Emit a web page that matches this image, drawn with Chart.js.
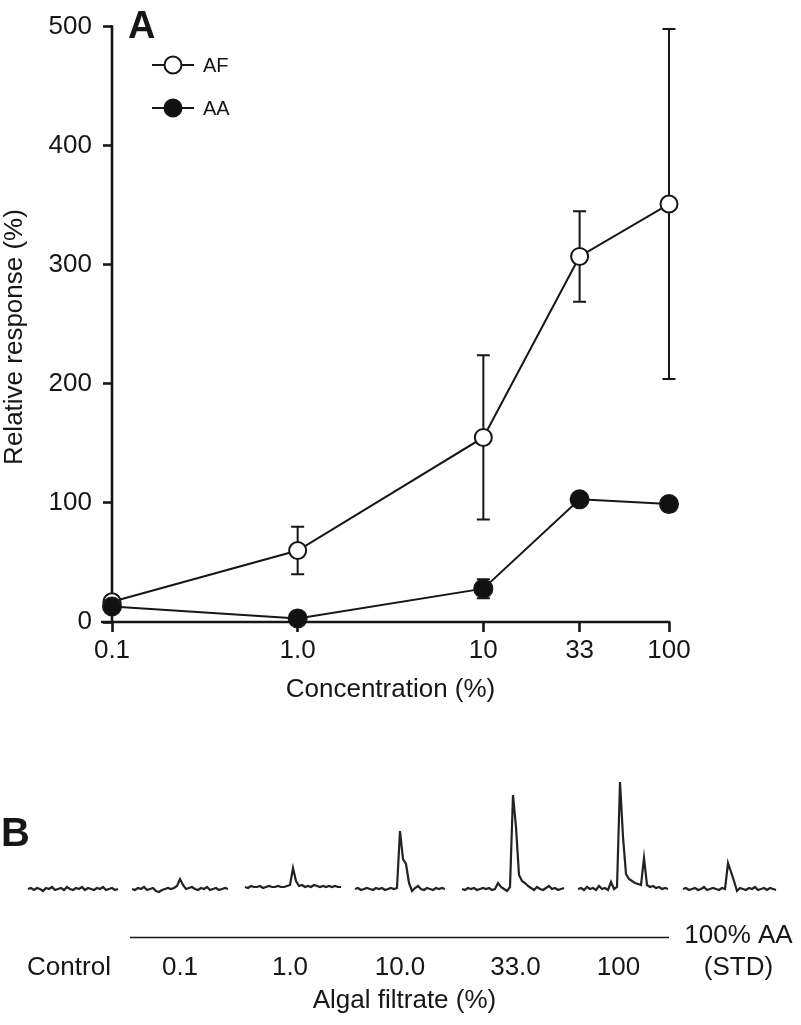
<!DOCTYPE html>
<html><head><meta charset="utf-8">
<script src="https://cdn.jsdelivr.net/npm/chart.js@4.4.1/dist/chart.umd.min.js"></script>
<style>
html,body{margin:0;padding:0;background:#fff;}
#wrap{position:relative;width:801px;height:1025px;overflow:hidden;}
.box{position:absolute;left:0;width:801px;}
</style></head><body>
<div id="wrap">
<div class="box" style="top:0;height:730px"><canvas id="cA" width="801" height="730"></canvas></div>
<div class="box" style="top:730px;height:295px"><canvas id="cB" width="801" height="295"></canvas></div>
</div>
<script>
// ---------- Panel A data ----------
const concentrations = [0.1, 1, 10, 33, 100];
const xTickLabels = ["0.1", "1.0", "10", "33", "100"];
const yTicks = [0, 100, 200, 300, 400, 500];
const afMean = [17, 60, 155, 307, 351];
const afErr  = [0, 20, 69, 38, 147];
const aaMean = [13, 3, 28, 103, 99];
const aaErr  = [0, 0, 8, 0, 0];
const seriesNames = ["AF", "AA"];

// ---------- Panel B data (trace samples, arbitrary units above baseline) ----------
const traceNames = ["Control", "0.1", "1.0", "10.0", "33.0", "100", "100% AA"];
const traceStart = [9.33, 44, 81.67, 118.33, 154, 192.67, 227.67];
const traceControl = [0,1,-1,1,0,-2,1,0,2,-1,0,1,-1,2,0,-1,1,0,2,-1,1,0,-1,1,0,2,-1,0,1,-1,0];
const trace01  = [0,-1,1,0,2,-1,0,1,-2,-3,-1,0,1,0,1,3,10,4,0,1,2,0,-1,1,0,2,-1,0,1,-1,0,1,0];
const trace10  = [2,1,3,2,2,3,1,2,3,2,2,3,2,2,3,4,21,8,3,4,2,3,2,4,3,2,3,2,3,2,3,2,2];
const trace100 = [0,1,-1,0,1,0,-1,1,0,1,-1,0,1,0,1,58,30,25,6,-2,1,3,0,-1,1,0,-1,1,0,1,0];
const trace330 = [0,-1,1,0,1,-1,0,1,0,1,-1,0,6,2,0,-2,2,94,62,14,8,6,3,1,-1,2,0,-1,1,3,0,1,-1,0,1];
const trace1000 = [0,1,-1,2,0,1,-1,3,0,1,-1,7,0,2,107,52,15,10,8,6,5,4,31,4,2,3,1,2,0,1,0];
const traceStd = [0,1,-1,0,1,-1,0,2,-1,0,1,0,-1,1,0,26,17,8,-2,1,0,-1,1,0,2,-1,0,1,-1,1,0,-1];
const traces = [traceControl, trace01, trace10, trace100, trace330, trace1000, traceStd];
const bLabelPos = [23, 60, 96.67, 133.33, 171.83, 206.17, 246.17];
const bGroupSpan = [43.33, 223];
const bTitlePos = 134.83;

const FONT = "'Liberation Sans', Arial, Helvetica, sans-serif";
const INK = '#161616';

function pts(xs, ys) { return xs.map((x, i) => ({x: x, y: ys[i]})); }

const errorBars = {
  id: 'errorBars',
  beforeDatasetsDraw(chart) {
    const ctx = chart.ctx, xs = chart.scales.x, ys = chart.scales.y;
    ctx.save();
    ctx.strokeStyle = INK; ctx.lineWidth = 2;
    chart.data.datasets.forEach(ds => {
      if (!ds.err) return;
      ds.data.forEach((p, i) => {
        const e = ds.err[i]; if (!e) return;
        const px = xs.getPixelForValue(p.x);
        const top = ys.getPixelForValue(p.y + e), bot = ys.getPixelForValue(p.y - e);
        ctx.beginPath();
        ctx.moveTo(px, top); ctx.lineTo(px, bot);
        ctx.moveTo(px - 6.5, top); ctx.lineTo(px + 6.5, top);
        ctx.moveTo(px - 6.5, bot); ctx.lineTo(px + 6.5, bot);
        ctx.stroke();
      });
    });
    ctx.restore();
  }
};

const decorA = {
  id: 'decorA',
  beforeDraw(chart) {
    const ctx = chart.ctx, ca = chart.chartArea;
    ctx.save();
    ctx.strokeStyle = INK; ctx.lineWidth = 2.6; ctx.lineCap = 'butt';
    ctx.beginPath();
    ctx.moveTo(ca.left, ca.top - 1.3); ctx.lineTo(ca.left, ca.bottom + 1.3);
    ctx.moveTo(ca.left - 11, ca.bottom); ctx.lineTo(ca.right + 1.3, ca.bottom);
    ctx.stroke();
    ctx.restore();
  },
  afterDraw(chart) {
    const ctx = chart.ctx, ca = chart.chartArea;
    ctx.save();
    ctx.fillStyle = INK;
    ctx.font = "bold 38px " + FONT;
    ctx.textAlign = 'left'; ctx.textBaseline = 'alphabetic';
    ctx.fillText('A', ca.left + 16, 38);
    ctx.font = "26px " + FONT;
    ctx.textAlign = 'center';
    ctx.fillText('Concentration (%)', (ca.left + ca.right) / 2, 697);
    ctx.save();
    ctx.translate(15, 337); ctx.rotate(-Math.PI / 2);
    ctx.textBaseline = 'middle';
    ctx.fillText('Relative response (%)', 0, 0);
    ctx.restore();
    const rows = [65, 108];
    chart.data.datasets.slice().sort((a, b) => a.legendIndex - b.legendIndex).forEach((ds, k) => {
      const y = rows[k];
      ctx.strokeStyle = INK; ctx.lineWidth = 2;
      ctx.beginPath(); ctx.moveTo(152, y); ctx.lineTo(194, y); ctx.stroke();
      ctx.beginPath(); ctx.arc(173, y, 8.5, 0, Math.PI * 2);
      ctx.fillStyle = ds.pointBackgroundColor; ctx.fill();
      ctx.stroke();
      ctx.fillStyle = INK;
      ctx.font = "20px " + FONT; ctx.textAlign = 'left'; ctx.textBaseline = 'middle';
      ctx.fillText(ds.label, 203, y + 1);
    });
    ctx.restore();
  }
};

new Chart(document.getElementById('cA'), {
  type: 'line',
  data: {
    datasets: [
      { label: seriesNames[1], legendIndex: 1, order: 0, data: pts(concentrations, aaMean), err: aaErr,
        borderColor: INK, borderWidth: 2, pointRadius: 9, pointBorderWidth: 2,
        pointBackgroundColor: '#111', pointBorderColor: INK, clip: false, tension: 0 },
      { label: seriesNames[0], legendIndex: 0, order: 1, data: pts(concentrations, afMean), err: afErr,
        borderColor: INK, borderWidth: 2, pointRadius: 8.5, pointBorderWidth: 2,
        pointBackgroundColor: '#ffffff', pointBorderColor: INK, clip: false, tension: 0 }
    ]
  },
  options: {
    responsive: false, animation: false, events: [],
    layout: { padding: { top: 22, right: 132, left: 0, bottom: 0 } },
    plugins: { legend: { display: false }, tooltip: { enabled: false } },
    scales: {
      x: {
        type: 'logarithmic', min: 0.1, max: 100,
        afterBuildTicks: s => { s.ticks = concentrations.map(v => ({ value: v })); },
        afterFit: s => { s.height = 108; },
        ticks: { callback: (v, i) => xTickLabels[i], font: { family: FONT, size: 26 }, color: INK,
                 padding: 3, maxRotation: 0, autoSkip: false },
        grid: { drawOnChartArea: false, drawTicks: true, tickLength: 10, tickWidth: 2.6, tickColor: INK },
        border: { display: false }
      },
      y: {
        min: 0, max: 500,
        afterBuildTicks: s => { s.ticks = yTicks.map(v => ({ value: v })); },
        afterFit: s => { s.width = 112; },
        ticks: { font: { family: FONT, size: 26 }, color: INK, padding: 11 },
        grid: { drawOnChartArea: false, drawTicks: true, tickLength: 9, tickWidth: 2.6, tickColor: INK },
        border: { display: false }
      }
    }
  },
  plugins: [errorBars, decorA]
});

// ---------- Panel B ----------
const decorB = {
  id: 'decorB',
  afterDraw(chart) {
    const ctx = chart.ctx, xs = chart.scales.x;
    ctx.save();
    ctx.fillStyle = INK; ctx.strokeStyle = INK;
    ctx.font = "bold 40px " + FONT;
    ctx.textAlign = 'left'; ctx.textBaseline = 'alphabetic';
    ctx.fillText('B', 1, 116);
    ctx.font = "26px " + FONT; ctx.textAlign = 'center';
    traceNames.forEach((t, i) => {
      const x = xs.getPixelForValue(bLabelPos[i]);
      if (i === traceNames.length - 1) {
        ctx.fillText(t, x, 213);
        ctx.fillText('(STD)', x, 245);
      } else {
        ctx.fillText(t, x, 245);
      }
    });
    ctx.lineWidth = 1.6;
    ctx.beginPath();
    ctx.moveTo(xs.getPixelForValue(bGroupSpan[0]), 207.5);
    ctx.lineTo(xs.getPixelForValue(bGroupSpan[1]), 207.5);
    ctx.stroke();
    ctx.fillText('Algal filtrate (%)', xs.getPixelForValue(bTitlePos), 278);
    ctx.restore();
  }
};

new Chart(document.getElementById('cB'), {
  type: 'line',
  data: {
    datasets: traces.map((tr, k) => ({
      label: traceNames[k],
      data: tr.map((v, i) => ({ x: traceStart[k] + i, y: v })),
      borderColor: '#222222', borderWidth: 2.2, pointRadius: 0, tension: 0, clip: false
    }))
  },
  options: {
    responsive: false, animation: false, events: [],
    layout: { padding: 0 },
    plugins: { legend: { display: false }, tooltip: { enabled: false } },
    scales: {
      x: { type: 'linear', min: 0, max: 267, display: false },
      y: { min: -136, max: 159, display: false }
    }
  },
  plugins: [decorB]
});
</script>
</body></html>
